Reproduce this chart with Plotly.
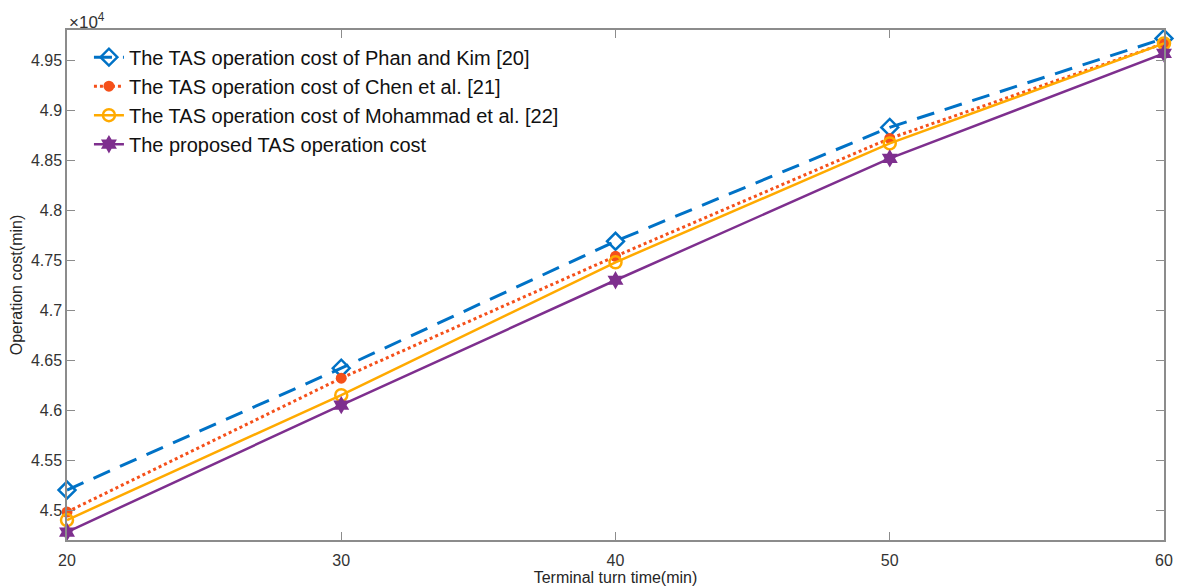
import plotly.graph_objects as go

x_vals = [20, 30, 40, 50, 60]
phan_kim = [45200, 46420, 47690, 48830, 49720]
chen = [44980, 46320, 47540, 48720, 49670]
mohammad = [44900, 46150, 47480, 48670, 49670]
proposed = [44780, 46050, 47300, 48520, 49570]

names = [
    "The TAS operation cost of Phan and Kim [20]",
    "The TAS operation cost of Chen et al. [21]",
    "The TAS operation cost of Mohammad et al. [22]",
    "The proposed TAS operation cost",
]
y_tick_vals = [45000 + 500 * i for i in range(10)]
y_tick_text = ["4.5", "4.55", "4.6", "4.65", "4.7", "4.75", "4.8", "4.85", "4.9", "4.95"]
x_tick_vals = [20, 30, 40, 50, 60]

fig = go.Figure()
fig.add_trace(go.Scatter(
    x=x_vals, y=phan_kim, name=names[0], mode="lines+markers", cliponaxis=False,
    line=dict(color="#0072C6", width=3, dash="18px,11px"),
    marker=dict(symbol="diamond-open", size=13, color="#0072C6", line=dict(width=2.5, color="#0072C6")),
))
fig.add_trace(go.Scatter(
    x=x_vals, y=chen, name=names[1], mode="lines+markers", cliponaxis=False,
    line=dict(color="#F5501A", width=3, dash="dot"),
    marker=dict(symbol="circle", size=11, color="#F5501A"),
))
fig.add_trace(go.Scatter(
    x=x_vals, y=mohammad, name=names[2], mode="lines+markers", cliponaxis=False,
    line=dict(color="#FFAA00", width=2.5),
    marker=dict(symbol="circle-open", size=12, color="#FFAA00", line=dict(width=2.5, color="#FFAA00")),
))
fig.add_trace(go.Scatter(
    x=x_vals, y=proposed, name=names[3], mode="lines+markers", cliponaxis=False,
    line=dict(color="#7E2F8E", width=2.5),
    marker=dict(symbol="hexagram", size=14, color="#7E2F8E"),
))

axis_common = dict(
    showline=True, linecolor="#8c8c8c", linewidth=1.5, mirror="ticks",
    ticks="inside", ticklen=8, tickcolor="#8c8c8c", tickwidth=1,
    showgrid=False, zeroline=False, automargin=False,
    tickfont=dict(family="Liberation Sans, Arial, sans-serif", size=16, color="#333333"),
)

fig.update_layout(
    width=1177, height=588,
    margin=dict(l=67, r=13, t=30, b=48),
    paper_bgcolor="white", plot_bgcolor="white",
    font=dict(family="Liberation Sans, Arial, sans-serif", color="#262626"),
    xaxis=dict(
        range=[20, 60], tickvals=x_tick_vals, ticklabelstandoff=5,
        title=dict(text="Terminal turn time(min)", font=dict(size=16), standoff=0),
        **axis_common,
    ),
    yaxis=dict(
        range=[44700, 49805], tickvals=y_tick_vals, ticktext=y_tick_text,
        title=dict(text="Operation cost(min)", font=dict(size=16), standoff=4),
        **axis_common,
    ),
    legend=dict(
        x=0.02, y=0.985, xanchor="left", yanchor="top",
        bgcolor="rgba(255,255,255,0)", borderwidth=0,
        font=dict(size=20, color="#111111"), tracegroupgap=0,
    ),
    showlegend=True,
    annotations=[dict(
        text="×10<sup>4</sup>", xref="paper", yref="paper", x=0.0, y=1.0,
        xanchor="left", yanchor="bottom", showarrow=False,
        font=dict(size=17, color="#333333"), yshift=-4,
    )],
)

fig.write_html("out.html")
